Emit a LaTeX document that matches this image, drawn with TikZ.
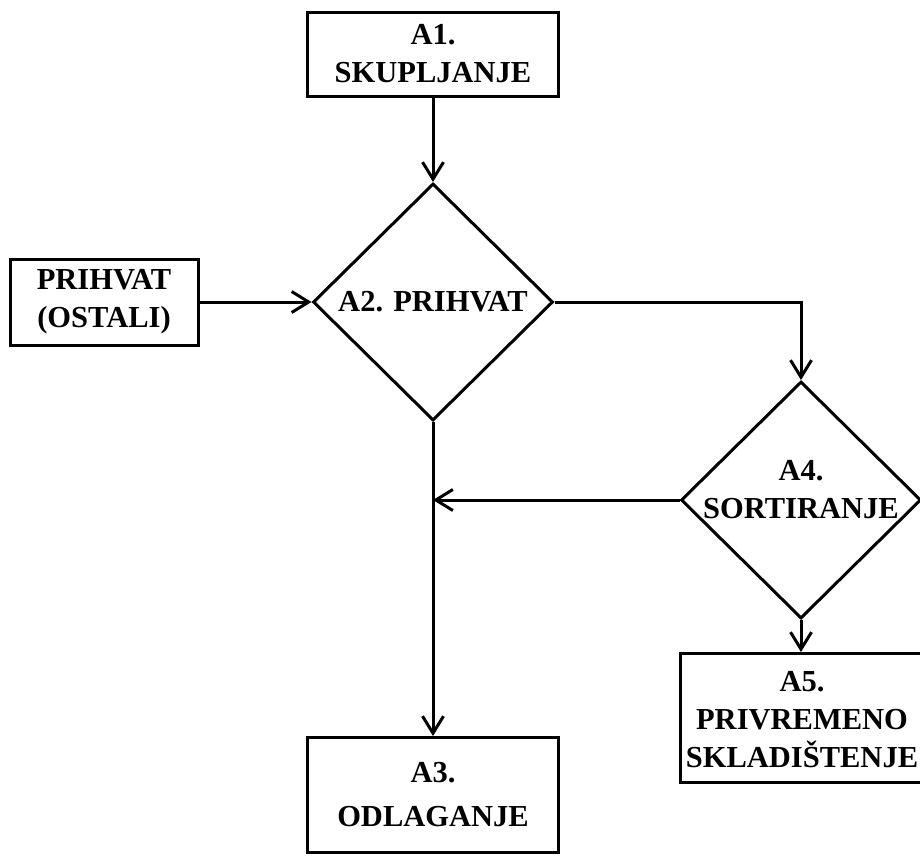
\documentclass[tikz,border=0pt]{standalone}
\usepackage{fontspec}
\setmainfont{Liberation Serif}
\usetikzlibrary{shapes.geometric,arrows.meta}

\begin{document}
\begin{tikzpicture}[x=1pt,y=-1pt,line width=3pt,
    >={Straight Barb[length=17pt,width=21pt]},
    every node/.style={font=\bfseries\fontsize{30.5}{38}\selectfont,align=center,inner sep=0pt},
    box/.style={draw,rectangle},
    choice/.style={draw,diamond,minimum width=240pt,minimum height=237pt}]
      \useasboundingbox (0,0) rectangle (920,865);
      \node[box,minimum width=251pt,minimum height=84pt] (A1) at (433,54) {A1.\\SKUPLJANJE};
      \node[box,minimum width=188pt,minimum height=86pt] (P) at (104,302) {PRIHVAT\\(OSTALI)};
      \node[choice] (A2) at (433,302) {A2. PRIHVAT};
      \node[choice] (A4) at (801,500) {};
      \node (A4txt) at (801,490) {A4.\\SORTIRANJE};
      \node[box,minimum width=252pt,minimum height=129pt] (A5) at (806,718) {};
      \node (A5txt) at (802,720) {A5.\\PRIVREMENO\\SKLADIŠTENJE};
      \node[box,minimum width=251pt,minimum height=115pt] (A3) at (433,795) {A3.\\[6pt]ODLAGANJE};
      \coordinate (J) at (A2.south |- A4.west);
      \draw[->] (A1) -- (A2);
      \draw[->] (P) -- (A2);
      \draw[->] (A2.east) -| (A4.north);
      \draw[->] (A4.west) -- (J);
      \draw[->] (A2.south) -- (A3.north);
      \draw[->] (A4.south) -- (A4.south |- A5.north);
    \end{tikzpicture}
\end{document}
